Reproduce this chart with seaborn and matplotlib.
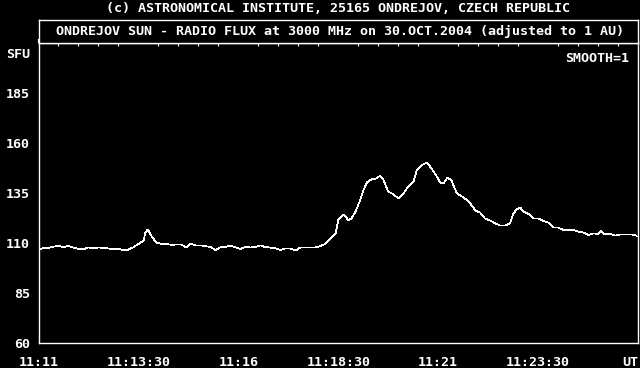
import matplotlib
matplotlib.use("Agg")
import matplotlib.pyplot as plt
import numpy as np
import pandas as pd
import seaborn as sns
from matplotlib.ticker import MultipleLocator

# ---- data (seconds after 11:11:00 UT, solar flux units) ----
seconds = [0, 8, 15, 22, 30, 38, 45, 52, 60, 68, 75, 82, 90, 98, 105, 112, 120, 128, 135, 142,
           150, 158, 160, 164, 170, 177, 185, 192, 200, 207, 215, 222,
           228, 236, 243, 250, 258, 266, 273, 280, 288, 296, 303, 310, 318, 326, 333, 340,
           348, 356, 363, 370, 378, 386, 393, 400, 408, 416, 423, 430, 438,
           446, 450, 458, 465, 470, 476, 483, 488, 493, 500, 508, 512, 518, 525, 533, 540,
           548, 555, 563, 568, 576, 583, 590, 598, 603, 608, 614, 620, 628, 636, 643, 650,
           656, 663,
           670, 678, 686, 693, 700, 708, 713, 718, 723, 728, 736, 743, 750, 758, 766, 773,
           780, 788, 796, 803, 810, 818, 826, 833, 840, 844, 850, 858, 866, 873, 880, 888,
           896, 898]
flux = [106.5, 107.7, 107.5, 108.2, 108.5, 108.0, 108.5, 107.7, 107.0, 106.9, 107.8, 107.3,
        107.8, 107.5, 107.3, 106.8, 107.3, 106.2, 106.7, 107.8,
        109.5, 111.2, 114.8, 116.8, 113.2, 110.2, 109.5, 109.6, 109.0, 109.3, 109.2, 107.7,
        109.8, 108.7, 108.8, 108.5, 108.0, 106.5, 107.8, 108.0, 108.8, 107.8, 107.0, 108.0,
        107.8, 108.0, 108.8, 108.0,
        107.7, 107.3, 106.5, 107.3, 107.3, 106.2, 107.8, 107.8, 107.8, 107.8, 108.5, 109.5, 112.3,
        114.8, 121.5, 124.3, 121.5, 122.3, 125.7, 131.5, 136.5, 140.3, 141.8, 142.3, 143.5,
        141.5, 135.7, 134.3, 132.3,
        134.8, 138.2, 140.7, 146.5, 149.0, 150.2, 147.3, 143.2, 140.3, 139.8, 142.8, 141.2,
        134.8, 133.2, 131.5, 129.0,
        126.2, 125.2,
        122.3, 121.2, 119.8, 118.7, 118.7, 119.8, 124.8, 126.8, 127.8, 125.7, 124.5, 122.3,
        122.3, 121.0, 120.2, 117.7,
        117.7, 116.5, 116.5, 116.5, 115.7, 115.2, 114.0, 114.8, 114.5, 116.0, 114.3, 114.5,
        113.7, 114.3, 114.3, 114.3,
        114.0, 113.5]

x_tick_seconds = [0, 150, 300, 450, 600, 750, 900]
x_tick_labels = ["11:11", "11:13:30", "11:16", "11:18:30", "11:21", "11:23:30", "UT"]
y_tick_values = [60, 85, 110, 135, 160, 185, 205]
y_tick_labels = ["60", "85", "110", "135", "160", "185", "SFU"]
copyright_text = "(c) ASTRONOMICAL INSTITUTE, 25165 ONDREJOV, CZECH REPUBLIC"
title_text = "ONDREJOV SUN - RADIO FLUX at 3000 MHz on 30.OCT.2004 (adjusted to 1 AU)"
smooth_text = "SMOOTH=1"

assert len(seconds) == len(flux)

sns.set_theme(style="dark")
plt.rcParams["font.family"] = ["DejaVu Sans Mono"]
plt.rcParams["font.weight"] = "bold"
FS = 9.6

W, H = 640, 368
fig = plt.figure(figsize=(6.4, 3.68), dpi=100, facecolor="black")

ax = fig.add_axes([38.5 / W, (H - 343) / H, (638 - 38.5) / W, 300 / H])
ax.set_facecolor("black")
df = pd.DataFrame({"t": seconds, "flux": flux})
sns.lineplot(data=df, x="t", y="flux", color="white", linewidth=0.5,
             antialiased=False, ax=ax)
ax.set_xlim(0, 900)
ax.set_ylim(60, 210)
ax.set_xlabel("")
ax.set_ylabel("")
ax.grid(False)
for s in ax.spines.values():
    s.set_color("white")
    s.set_linewidth(1.0)

ax.set_xticks(x_tick_seconds)
ax.set_xticklabels(x_tick_labels)
ax.xaxis.set_minor_locator(MultipleLocator(30))
ax.set_yticks(y_tick_values)
ax.set_yticklabels(y_tick_labels)
ax.yaxis.set_minor_locator(MultipleLocator(5))

ax.tick_params(axis="x", which="major", direction="out", length=3, width=1.6,
               color="white", labelcolor="white", labelsize=FS, pad=6,
               top=True, labeltop=False)
ax.tick_params(axis="x", which="minor", direction="in", length=2, width=0.8,
               color="white", top=True)
ax.tick_params(axis="y", which="major", direction="out", length=2, width=1.6,
               color="white", labelcolor="white", labelsize=FS, pad=4)
ax.tick_params(axis="y", which="minor", direction="out", length=2, width=0.8,
               color="white")
labels = ax.get_xticklabels()
labels[-1].set_horizontalalignment("right")
for lab in ax.get_xticklabels() + ax.get_yticklabels():
    lab.set_fontweight("bold")

ax.text(0.985, 0.947, smooth_text, transform=ax.transAxes, ha="right", va="center",
        color="white", fontsize=FS, fontweight="bold")

tax = fig.add_axes([38.5 / W, (H - 43) / H, (638 - 38.5) / W, 23.5 / H])
tax.set_facecolor("black")
tax.set_xticks([])
tax.set_yticks([])
for s in tax.spines.values():
    s.set_color("white")
    s.set_linewidth(1.0)
tax.text(0.503, 0.5, title_text, transform=tax.transAxes, ha="center", va="center",
         color="white", fontsize=FS, fontweight="bold")

fig.text(337.5 / W, 1 - 8.5 / H, copyright_text, ha="center", va="center",
         color="white", fontsize=FS, fontweight="bold")

fig.savefig("out.png", dpi=100, facecolor="black")
